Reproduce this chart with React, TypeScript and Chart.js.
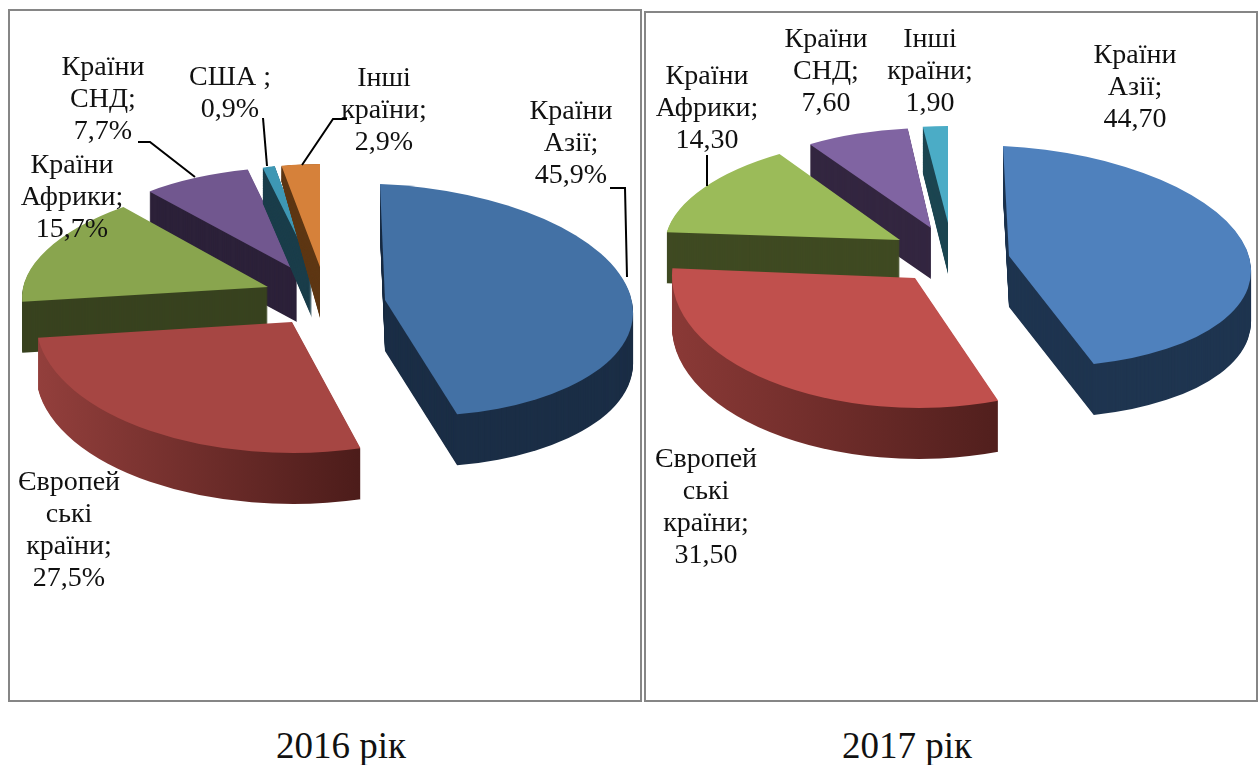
import React, { useEffect, useRef } from "react";
import { Chart, registerables } from "chart.js";

Chart.register(...registerables);

// ---------- data ----------
const categories2016 = ["Країни Азії", "Європейські країни", "Країни Африки", "Країни СНД", "США", "Інші країни"];
const values2016 = [45.9, 27.5, 15.7, 7.7, 0.9, 2.9];
const categories2017 = ["Країни Азії", "Європейські країни", "Країни Африки", "Країни СНД", "Інші країни"];
const values2017 = [44.7, 31.5, 14.3, 7.6, 1.9];
const caption2016 = "2016 рік";
const caption2017 = "2017 рік";

const labelLines2016 = [
  ["Країни", "Азії;", "45,9%"],
  ["Європей", "ські", "країни;", "27,5%"],
  ["Країни", "Африки;", "15,7%"],
  ["Країни", "СНД;", "7,7%"],
  ["США ;", "0,9%"],
  ["Інші", "країни;", "2,9%"],
];
const labelLines2017 = [
  ["Країни", "Азії;", "44,70"],
  ["Європей", "ські", "країни;", "31,50"],
  ["Країни", "Африки;", "14,30"],
  ["Країни", "СНД;", "7,60"],
  ["Інші", "країни;", "1,90"],
];

// ---------- styles / layout ----------
const topColors2016 = ["#4371A5", "#A64643", "#89A54E", "#71578F", "#3E97B4", "#D6813A"];
const sideColors2016 = [
  ["#1B2E46", "#1B2E46"], ["#933F3C", "#4C1C1A"], ["#38421F", "#38421F"],
  ["#2C2139", "#2C2139"], ["#1A3D4A", "#1A3D4A"], ["#5E3714", "#5E3714"],
];
const topColors2017 = ["#4F81BD", "#C0504D", "#9BBB59", "#8064A2", "#4BACC6"];
const sideColors2017 = [
  ["#1F3550", "#1F3550"], ["#8A3936", "#511F1D"], ["#3F4A22", "#3F4A22"],
  ["#332640", "#332640"], ["#1D4652", "#1D4652"],
];

// per-slice placement of the exploded, tilted pie: centre + projection matrix;
// grow = how much the lower face widens in depth (perspective on the back slices)
type Frame = { x: number; y: number; a: number; b: number; c: number; d: number; grow?: number };
const frames2016: Frame[] = [
  { x: 385, y: 300, a: 248, b: 10, c: 5, d: 116 },
  { x: 292, y: 322, a: 256, b: 1, c: -1, d: 131 },
  { x: 268, y: 287, a: 245, b: -1, c: -22, d: 107 },
  { x: 297, y: 271, a: 230, b: 2, c: -5, d: 104 },
  { x: 312, y: 267, a: 218, b: -12, c: -2, d: 105, grow: 16 },
  { x: 320, y: 267, a: 214, b: -1, c: 0, d: 103, grow: 36 },
];
const frames2017: Frame[] = [
  { x: 1009, y: 256, a: 242, b: 12, c: 6, d: 110 },
  { x: 915, y: 278, a: 243, b: 0, c: 4, d: 130 },
  { x: 900, y: 240, a: 235, b: 0, c: -14, d: 104 },
  { x: 931, y: 228, a: 220, b: 2, c: -3, d: 100 },
  { x: 948, y: 223, a: 212, b: 0, c: 0, d: 97, grow: 5 },
];
const depth = 51;
const order2016 = [3, 4, 5, 2, 0, 1];
const order2017 = [3, 4, 2, 0, 1];

// centre of each text block: x, y of the first line
const labelAt2016 = [[571, 112], [69, 483], [72, 166], [103, 68], [230, 78], [384, 79]];
const labelAt2017 = [[1135, 56], [706, 460], [707, 77], [826, 40], [930, 40]];
const leaders2016 = [
  [[610, 188], [625, 188], [627, 277]],
  [[138, 142], [150, 142], [195, 177]],
  [[263, 118], [267, 166]],
  [[347, 119], [333, 119], [302, 165]],
];
const leaders2017 = [[[707, 155], [707, 186]]];

const LABEL_FONT = '28px "Liberation Serif"';
const LINE_H = 31.8;

const sliceOptions = (backgroundColor: any) => ({
  backgroundColor, borderWidth: 0, borderColor: "transparent", offset: 0, spacing: 0,
  circular: true, borderAlign: "center", borderRadius: 0, borderDash: [], borderDashOffset: 0,
  borderJoinStyle: "round", selfJoin: false,
});

function drawAs(arc: any, ctx: CanvasRenderingContext2D, fill: any) {
  const copy = Object.create(arc);
  Object.defineProperty(copy, "options", { value: sliceOptions(fill), writable: true });
  arc.constructor.prototype.draw.call(copy, ctx);
}

function sideFill(ctx: CanvasRenderingContext2D, arc: any, pair: string[]) {
  if (pair[0] === pair[1]) return pair[0];
  const R = arc.outerRadius;
  const xs = [arc.startAngle, arc.endAngle].map((t: number) => Math.cos(t));
  if (arc.startAngle <= Math.PI && arc.endAngle >= Math.PI) xs.push(-1);
  const g = ctx.createLinearGradient(arc.x + R * Math.min(...xs), 0, arc.x + R * Math.max(...xs), 0);
  g.addColorStop(0, pair[0]);
  g.addColorStop(1, pair[1]);
  return g;
}

function Pie(props: any) {
  const ref = useRef<HTMLCanvasElement>(null);
  useEffect(() => {
    const { values, categories, tops, sides, frames, order, lines, labelAt, leaders, box } = props;
    const plugin = {
      id: "tiltedPie",
      beforeDatasetsDraw(chart: any) {
        const ctx = chart.ctx as CanvasRenderingContext2D;
        const arcs = chart.getDatasetMeta(0).data;
        const place = (arc: any, f: Frame, dy: number) => {
          const R = arc.outerRadius;
          const d = f.d + ((f.grow || 0) * dy) / depth;
          ctx.translate(f.x - box.left, f.y - box.top + dy);
          ctx.transform(f.a / R, f.b / R, f.c / R, d / R, 0, 0);
          ctx.translate(-arc.x, -arc.y);
        };
        order.forEach((i: number) => {
          const arc = arcs[i];
          const fill = sideFill(ctx, arc, sides[i]);
          for (let dy = depth; dy >= 1; dy--) {
            ctx.save();
            place(arc, frames[i], dy);
            drawAs(arc, ctx, fill);
            ctx.restore();
          }
          ctx.save();
          place(arc, frames[i], 0);
          drawAs(arc, ctx, tops[i]);
          ctx.restore();
        });
        return false;
      },
      afterDraw(chart: any) {
        const ctx = chart.ctx as CanvasRenderingContext2D;
        ctx.save();
        ctx.translate(-box.left, -box.top);
        ctx.strokeStyle = "#000";
        ctx.lineWidth = 2;
        ctx.lineJoin = "miter";
        leaders.forEach((pts: number[][]) => {
          ctx.beginPath();
          pts.forEach((p, k) => (k ? ctx.lineTo(p[0], p[1]) : ctx.moveTo(p[0], p[1])));
          ctx.stroke();
        });
        ctx.fillStyle = "#111";
        ctx.font = LABEL_FONT;
        ctx.textAlign = "center";
        ctx.textBaseline = "middle";
        lines.forEach((block: string[], i: number) => {
          block.forEach((t, k) => ctx.fillText(t, labelAt[i][0], labelAt[i][1] + k * LINE_H));
        });
        ctx.restore();
      },
    };
    const chart = new Chart(ref.current as HTMLCanvasElement, {
      type: "pie",
      data: { labels: categories, datasets: [{ data: values, backgroundColor: tops, borderWidth: 0 }] },
      options: {
        responsive: false,
        animation: false,
        events: [],
        plugins: { legend: { display: false }, tooltip: { enabled: false } },
      },
      plugins: [plugin],
    } as any);
    return () => chart.destroy();
  }, []);
  const { box } = props;
  return (
    <canvas
      ref={ref}
      width={box.width}
      height={box.height}
      style={{ position: "absolute", left: box.left, top: box.top, filter: "blur(0.5px)" }}
    />
  );
}

const frameStyle = (left: number, top: number, width: number, height: number): React.CSSProperties => ({
  position: "absolute", left, top, width, height, boxSizing: "border-box",
  border: "2.5px solid #868686", background: "#fff",
});
const captionStyle = (cx: number): React.CSSProperties => ({
  position: "absolute", left: cx - 120, width: 240, top: 724, textAlign: "center",
  font: '37px/44px "Liberation Serif"', color: "#111",
});

export default function App() {
  return (
    <div style={{ position: "fixed", inset: 0, background: "#fff", overflow: "hidden" }}>
      <div style={frameStyle(8, 9, 634, 693)} />
      <div style={frameStyle(644, 11, 614, 691)} />
      <Pie
        values={values2016} categories={categories2016} tops={topColors2016} sides={sideColors2016}
        frames={frames2016} order={order2016} lines={labelLines2016} labelAt={labelAt2016}
        leaders={leaders2016} box={{ left: 11, top: 12, width: 628, height: 688 }}
      />
      <Pie
        values={values2017} categories={categories2017} tops={topColors2017} sides={sideColors2017}
        frames={frames2017} order={order2017} lines={labelLines2017} labelAt={labelAt2017}
        leaders={leaders2017} box={{ left: 647, top: 14, width: 609, height: 686 }}
      />
      <div style={captionStyle(341)}>{caption2016}</div>
      <div style={captionStyle(907)}>{caption2017}</div>
    </div>
  );
}
